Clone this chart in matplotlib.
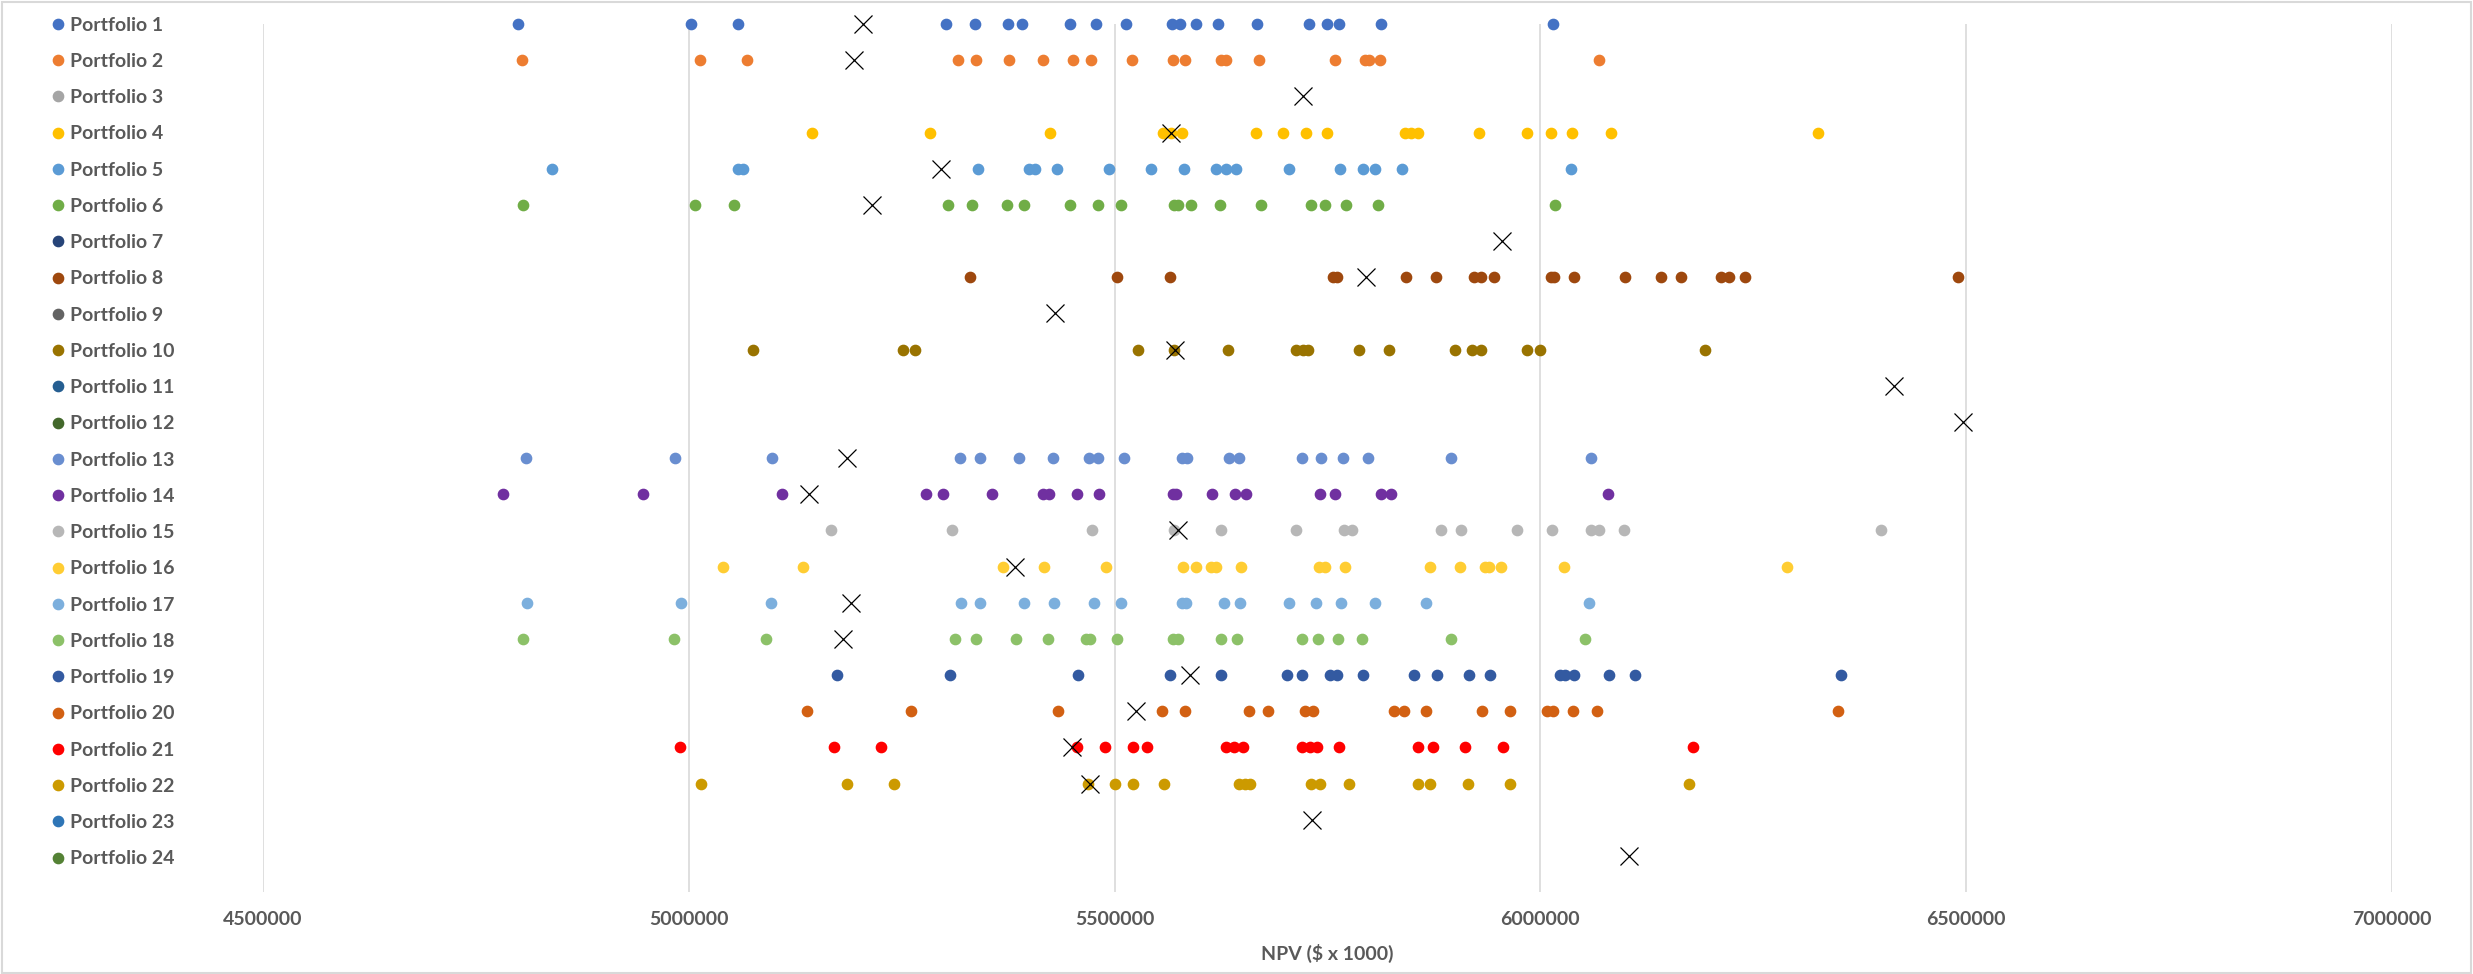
import matplotlib.pyplot as plt
from matplotlib.patches import Rectangle

# NPV values ($ x 1000) of the simulated runs for each portfolio
portfolio_1 = [4799600, 5003100, 5058200, 5302200, 5336300, 5375100, 5391400, 5448100, 5478500, 5513100,
               5567200, 5576600, 5595500, 5621700, 5667400, 5728800, 5749200, 5763900, 5813200, 6014700]
portfolio_2 = [4803800, 5012600, 5068200, 5315800, 5337400, 5375700, 5416100, 5451200, 5472200, 5521000,
               5568700, 5582400, 5625000, 5631000, 5670000, 5758700, 5793800, 5799100, 5811600, 6069300]
portfolio_3 = []
portfolio_4 = [5144300, 5283800, 5423900, 5557200, 5566000, 5579200, 5665800, 5697800, 5724600, 5749200,
               5840500, 5847900, 5856200, 5927600, 5984800, 6012100, 6037300, 6083400, 6325600]
portfolio_5 = [4838900, 5058200, 5063500, 5340000, 5399800, 5407100, 5432800, 5493700, 5543000, 5581300,
               5618600, 5630600, 5642700, 5705100, 5764400, 5791700, 5805400, 5837400, 6035700]
portfolio_6 = [4805300, 5006800, 5052500, 5304300, 5332100, 5373600, 5393500, 5448100, 5480600, 5507400,
               5569800, 5574000, 5590200, 5624300, 5672100, 5730900, 5747100, 5771800, 5809600, 6017300]
portfolio_7 = []
portfolio_8 = [5330000, 5503200, 5564500, 5756600, 5760800, 5842600, 5877200, 5921800, 5930800, 5946000,
               6012100, 6016300, 6039400, 6099200, 6142200, 6165300, 6211500, 6220900, 6240800, 6490200]
portfolio_9 = []
portfolio_10 = [5075000, 5251300, 5265500, 5527800, 5570300, 5632700, 5713500, 5721400, 5726700, 5787000,
                5822700, 5900300, 5919200, 5929700, 5984300, 5999000, 6193600]
portfolio_11 = []
portfolio_12 = []
portfolio_13 = [4808500, 4984300, 5097600, 5319000, 5341600, 5387700, 5427600, 5469600, 5480100, 5511000,
                5579200, 5584500, 5634800, 5646400, 5720400, 5742400, 5768600, 5798000, 5895600, 6059800]
portfolio_14 = [4782300, 4946500, 5109100, 5278100, 5298500, 5356200, 5416100, 5422400, 5455400, 5481100,
                5568700, 5572400, 5613900, 5641700, 5654300, 5740800, 5759200, 5812700, 5824200, 6079200]
portfolio_15 = [5167400, 5309600, 5473800, 5570300, 5624900, 5713500, 5769100, 5778600, 5883000, 5907100,
                5972700, 6014100, 6059300, 6068700, 6098100, 6399800]
portfolio_16 = [5039900, 5134300, 5368800, 5417600, 5490000, 5580800, 5596000, 5613300, 5618600, 5649000,
                5740300, 5747600, 5770200, 5869900, 5906100, 5934400, 5940200, 5953300, 6027300, 6289600]
portfolio_17 = [4809500, 4991100, 5096500, 5320000, 5342100, 5393500, 5429200, 5475300, 5507400, 5579200,
                5583400, 5628500, 5646900, 5705100, 5736600, 5766000, 5805400, 5865200, 6056700]
portfolio_18 = [4805300, 4983200, 5090800, 5312700, 5336800, 5384000, 5421800, 5465900, 5471700, 5502600,
                5568700, 5574500, 5624900, 5643800, 5719800, 5739200, 5761800, 5790100, 5895100, 6052500]
portfolio_19 = [5173700, 5306900, 5457500, 5565100, 5624900, 5703000, 5720400, 5753400, 5760800, 5791200,
                5851000, 5878300, 5916100, 5941200, 6023100, 6028300, 6039400, 6080800, 6111200, 6353200]
portfolio_20 = [5138500, 5261300, 5433400, 5555600, 5582400, 5658400, 5680500, 5723500, 5733000, 5827900,
                5839500, 5865700, 5931300, 5964300, 6007300, 6014700, 6038800, 6066600, 6348900]
portfolio_21 = [4990000, 5170000, 5226100, 5455400, 5488500, 5522000, 5538300, 5630600, 5640600, 5650600,
                5720400, 5729800, 5737700, 5763900, 5856200, 5874100, 5911800, 5955900, 6178900]
portfolio_22 = [5014700, 5185200, 5241300, 5468500, 5500500, 5522000, 5558200, 5646400, 5652700, 5659000,
                5730900, 5741300, 5775500, 5856800, 5870400, 5914500, 5963800, 6174200]
portfolio_23 = []
portfolio_24 = []

# deterministic NPV of each portfolio (black X)
base_npv = [5204100, 5193600, 5721400, 5566100, 5296400, 5215100, 5954400, 5794900, 5430200, 5571400,
            6415500, 6495700, 5185700, 5140600, 5574500, 5383000, 5189900, 5181500, 5588100, 5524700,
            5450200, 5471700, 5731400, 6104400]

runs = [portfolio_1, portfolio_2, portfolio_3, portfolio_4, portfolio_5, portfolio_6,
        portfolio_7, portfolio_8, portfolio_9, portfolio_10, portfolio_11, portfolio_12,
        portfolio_13, portfolio_14, portfolio_15, portfolio_16, portfolio_17, portfolio_18,
        portfolio_19, portfolio_20, portfolio_21, portfolio_22, portfolio_23, portfolio_24]

colors = ['#4472C4', '#ED7D31', '#A5A5A5', '#FFC000', '#5B9BD5', '#70AD47',
          '#264478', '#9E480E', '#636363', '#997300', '#255E91', '#43682B',
          '#698ED0', '#7030A0', '#B7B7B7', '#FFCD33', '#7CAFDD', '#8CC168',
          '#335AA1', '#D26012', '#FF0000', '#CC9A00', '#2E75B6', '#548235']

plt.rcParams['font.family'] = ['Lato', 'DejaVu Sans']
text_color = '#595959'

fig = plt.figure(figsize=(24.73, 9.74), dpi=100)
ax = fig.add_axes([263 / 2473, 1 - 892 / 974, (2392 - 263) / 2473, (892 - 24) / 974])

n = len(runs)
for i, vals in enumerate(runs):
    y = n - i
    ax.plot(vals, [y] * len(vals), linestyle='none', marker='o', markersize=7.4,
            color=colors[i], label=f'Portfolio {i + 1}', clip_on=False, zorder=3)

ax.plot(base_npv, [n - i for i in range(n)], linestyle='none', marker='x',
        markersize=13, markeredgewidth=0.9, color='black', clip_on=False, zorder=4)

ax.set_xlim(4500000, 7000000)
ax.set_ylim(0, n)
ax.set_xticks([4500000, 5000000, 5500000, 6000000, 6500000, 7000000])
ax.set_xticklabels(['4500000', '5000000', '5500000', '6000000', '6500000', '7000000'])
ax.set_yticks([])
ax.grid(axis='x', color='#D9D9D9', linewidth=1.2)
ax.set_axisbelow(True)
for s in ax.spines.values():
    s.set_visible(False)
ax.tick_params(axis='x', length=0, pad=14, labelsize=14, labelcolor=text_color)
for lbl in ax.get_xticklabels():
    lbl.set_fontweight('bold')
ax.set_xlabel('NPV ($ x 1000)', fontsize=14, fontweight='bold', color=text_color, labelpad=11)

leg = fig.legend(loc='center left', bbox_to_anchor=(50 / 2473, 1 - 442 / 974),
                 frameon=False, fontsize=14, labelspacing=0.99, handlelength=0.8,
                 handletextpad=0.25, borderpad=0, borderaxespad=0)
for t in leg.get_texts():
    t.set_color(text_color)
    t.set_fontweight('bold')

# light chart border
fig.patches.append(Rectangle((0.001, 0.001), 0.998, 0.997, transform=fig.transFigure,
                             fill=False, edgecolor='#D9D9D9', linewidth=1.5))

fig.savefig('out.png', dpi=100)
